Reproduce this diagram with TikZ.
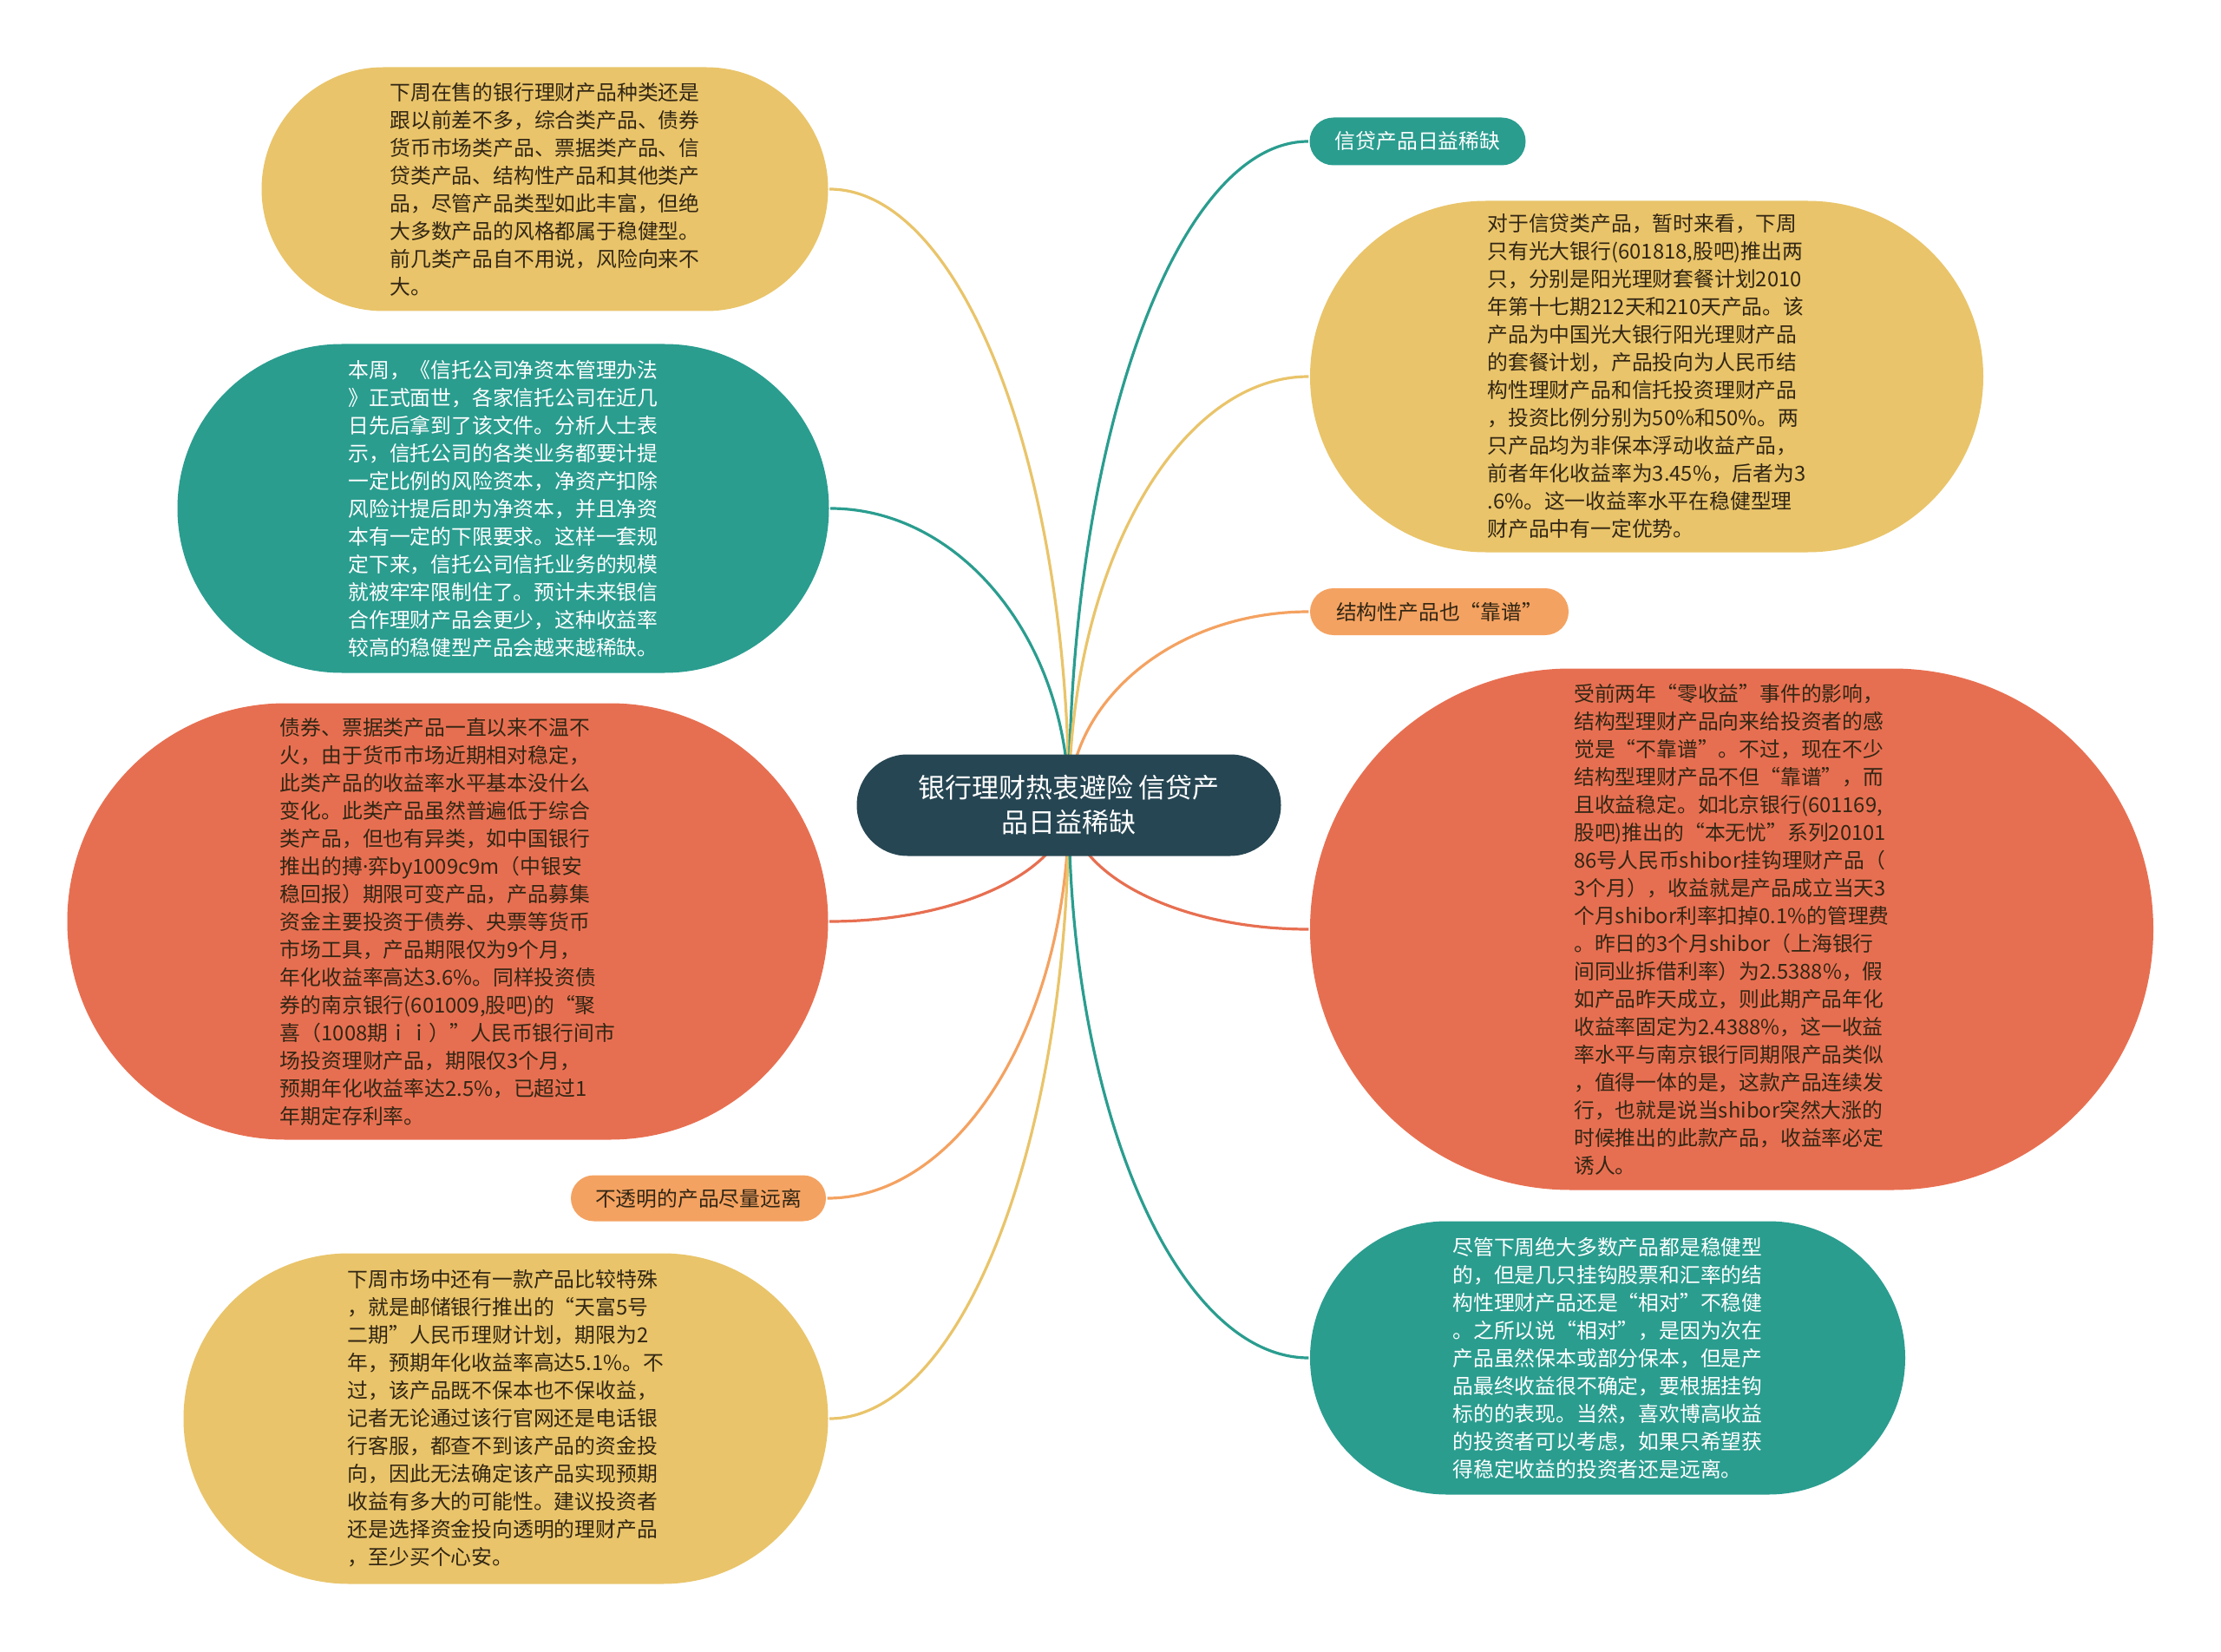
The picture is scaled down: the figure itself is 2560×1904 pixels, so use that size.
\documentclass[tikz,border=0pt]{standalone}
\usepackage{fontspec}
\setmainfont{Noto Sans CJK SC}
\usepackage{tikz}
\usetikzlibrary{shapes.misc,backgrounds,calc}
\definecolor{mapdark}{RGB}{38,70,83}
\definecolor{mapteal}{RGB}{42,157,143}
\definecolor{mapyellow}{RGB}{233,196,106}
\definecolor{maporange}{RGB}{244,162,97}
\definecolor{mapred}{RGB}{231,111,81}
\definecolor{inkbrown}{RGB}{50,38,20}
\tikzset{every picture/.style={line width=1.6pt}}

\begin{document}
\begin{tikzpicture}[x=.5pt,y=-.5pt,
 every node/.style={font=\fontsize{11.9}{16}\selectfont},
 leaf/.style={rounded rectangle,inner sep=0pt,align=left,text=inkbrown},
 tealleaf/.style={leaf,fill=mapteal,text=white},
 yellowleaf/.style={leaf,fill=mapyellow},
 redleaf/.style={leaf,fill=mapred},
 orangeleaf/.style={leaf,fill=maporange},
 branch/.style={line width=1.6pt}]
 \useasboundingbox (0,0) rectangle (2560,1904);
 % centre topic
 \node[rounded rectangle,fill=mapdark,text=white,align=center,inner sep=0pt,
  minimum width=244.5pt,minimum height=58.5pt,
  font=\fontsize{15.5}{20}\selectfont] (hub) at (1232,928)
  {银行理财热衷避险 信贷产\\品日益稀缺};
 % left side
 \node[yellowleaf,minimum width=326.5pt,minimum height=140.5pt] (weekly) at (628,218)
  {下周在售的银行理财产品种类还是\\跟以前差不多，综合类产品、债券\\货币市场类产品、票据类产品、信\\贷类产品、结构性产品和其他类产\\品，尽管产品类型如此丰富，但绝\\大多数产品的风格都属于稳健型。\\前几类产品自不用说，风险向来不\\大。};
 \node[tealleaf,minimum width=375.5pt,minimum height=189.5pt] (trust) at (580,586)
  {本周，《信托公司净资本管理办法\\》正式面世，各家信托公司在近几\\日先后拿到了该文件。分析人士表\\示，信托公司的各类业务都要计提\\一定比例的风险资本，净资产扣除\\风险计提后即为净资本，并且净资\\本有一定的下限要求。这样一套规\\定下来，信托公司信托业务的规模\\就被牢牢限制住了。预计未来银信\\合作理财产品会更少，这种收益率\\较高的稳健型产品会越来越稀缺。};
 \node[redleaf,minimum width=438.5pt,minimum height=251.5pt] (bonds) at (516,1062)
  {债券、票据类产品一直以来不温不\\火，由于货币市场近期相对稳定，\\此类产品的收益率水平基本没什么\\变化。此类产品虽然普遍低于综合\\类产品，但也有异类，如中国银行\\推出的搏{\fontspec{Noto Sans}·}弈by1009c9m（中银安\\稳回报）期限可变产品，产品募集\\资金主要投资于债券、央票等货币\\市场工具，产品期限仅为9个月，\\年化收益率高达3.6\%。同样投资债\\券的南京银行(601009,股吧)的“聚\\喜（1008期ｉｉ）”人民币银行间市\\场投资理财产品，期限仅3个月，\\预期年化收益率达2.5\%，已超过1\\年期定存利率。};
 \node[orangeleaf,minimum width=147pt,minimum height=26.5pt] (opaque) at (805,1381)
  {不透明的产品尽量远离};
 \node[yellowleaf,minimum width=371.5pt,minimum height=190.5pt] (postal) at (583,1635)
  {下周市场中还有一款产品比较特殊\\，就是邮储银行推出的“天富5号\\二期”人民币理财计划，期限为2\\年，预期年化收益率高达5.1\%。不\\过，该产品既不保本也不保收益，\\记者无论通过该行官网还是电话银\\行客服，都查不到该产品的资金投\\向，因此无法确定该产品实现预期\\收益有多大的可能性。建议投资者\\还是选择资金投向透明的理财产品\\，至少买个心安。};
 % right side
 \node[tealleaf,minimum width=124.5pt,minimum height=27.5pt] (credit) at (1634,163)
  {信贷产品日益稀缺};
 \node[yellowleaf,minimum width=388pt,minimum height=202.5pt] (everbright) at (1898,434)
  {对于信贷类产品，暂时来看，下周\\只有光大银行(601818,股吧)推出两\\只，分别是阳光理财套餐计划2010\\年第十七期212天和210天产品。该\\产品为中国光大银行阳光理财产品\\的套餐计划，产品投向为人民币结\\构性理财产品和信托投资理财产品\\，投资比例分别为50\%和50\%。两\\只产品均为非保本浮动收益产品，\\前者年化收益率为3.45\%，后者为3\\.6\%。这一收益率水平在稳健型理\\财产品中有一定优势。};
 \node[orangeleaf,minimum width=149pt,minimum height=27pt] (structured) at (1659,705)
  {结构性产品也“靠谱”};
 \node[redleaf,minimum width=486pt,minimum height=300.5pt] (shibor) at (1996,1071)
  {受前两年“零收益”事件的影响，\\结构型理财产品向来给投资者的感\\觉是“不靠谱”。不过，现在不少\\结构型理财产品不但“靠谱”，而\\且收益稳定。如北京银行(601169,\\股吧)推出的“本无忧”系列20101\\86号人民币shibor挂钩理财产品（\\3个月），收益就是产品成立当天3\\个月shibor利率扣掉0.1\%的管理费\\。昨日的3个月shibor（上海银行\\间同业拆借利率）为2.5388\%，假\\如产品昨天成立，则此期产品年化\\收益率固定为2.4388\%，这一收益\\率水平与南京银行同期限产品类似\\，值得一体的是，这款产品连续发\\行，也就是说当shibor突然大涨的\\时候推出的此款产品，收益率必定\\诱人。};
 \node[tealleaf,minimum width=343pt,minimum height=157.5pt] (hedged) at (1853,1565)
  {尽管下周绝大多数产品都是稳健型\\的，但是几只挂钩股票和汇率的结\\构性理财产品还是“相对”不稳健\\。之所以说“相对”，是因为次在\\产品虽然保本或部分保本，但是产\\品最终收益很不确定，要根据挂钩\\标的的表现。当然，喜欢博高收益\\的投资者可以考虑，如果只希望获\\得稳定收益的投资者还是远离。};
 % branches
 \begin{scope}[on background layer]
  \foreach \leafname/\side/\tint in {weekly/east/mapyellow,trust/east/mapteal,
    bonds/east/mapred,opaque/east/maporange,postal/east/mapyellow,
    credit/west/mapteal,everbright/west/mapyellow,structured/west/maporange,
    shibor/west/mapred,hedged/west/mapteal}
   \draw[branch,\tint] (hub.center)
    .. controls ($(hub.center)!.55!(hub.center |- \leafname.\side)$)
    and ($(\leafname.\side)!.55!(hub.center |- \leafname.\side)$) .. (\leafname.\side);
 \end{scope}
\end{tikzpicture}
\end{document}
